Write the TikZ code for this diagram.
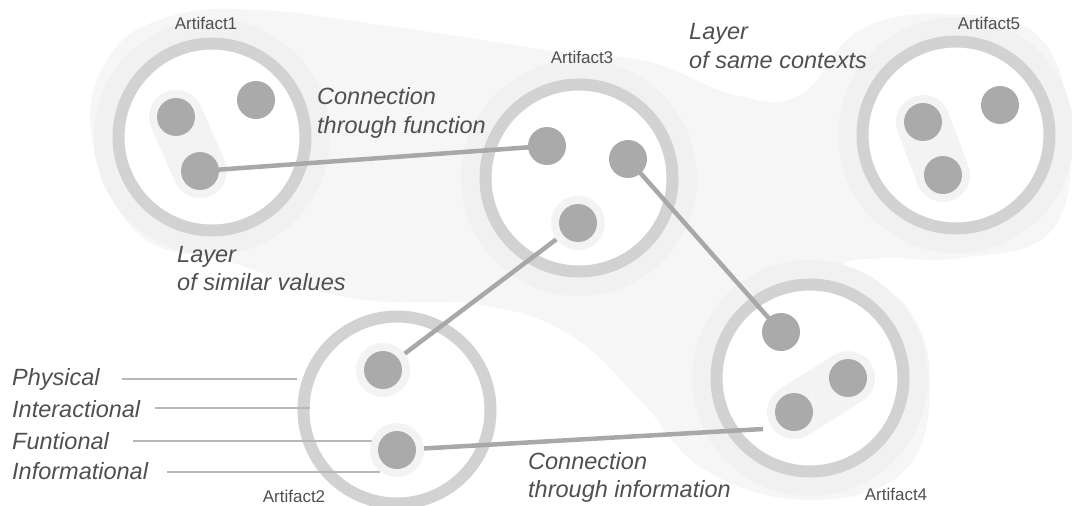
\documentclass[tikz,border=0pt]{standalone}
\usepackage{fontspec}
\setmainfont{Liberation Sans}
\definecolor{bandc}{HTML}{F6F6F6}
\definecolor{haloc}{HTML}{F1F1F1}
\definecolor{ringc}{HTML}{D2D2D2}
\definecolor{dotc}{HTML}{AAAAAA}
\definecolor{linec}{HTML}{A8A8A8}
\definecolor{pillc}{HTML}{F3F3F3}
\definecolor{txtc}{HTML}{505050}
\definecolor{leadc}{HTML}{B8B8B8}
\pgfdeclarelayer{back}
\pgfdeclarelayer{lines}
\pgfsetlayers{back,lines,main}
\tikzset{
  ring/.style={circle, draw=ringc, line width=12pt, fill=white, minimum size=187pt, inner sep=0pt},
  halo/.style={circle, fill=haloc, minimum size=236pt, inner sep=0pt},
  dot/.style={circle, fill=dotc, minimum size=38pt, inner sep=0pt},
  dothalo/.style={circle, fill=pillc, minimum size=54pt, inner sep=0pt},
  conn/.style={draw=linec, line width=4.5pt},
  pill/.style={draw=pillc, line width=54pt, line cap=round},
  lbl/.style={font=\fontsize{23.5}{28}\selectfont\itshape, text=txtc, inner sep=0pt, anchor=base west},
  art/.style={font=\fontsize{17}{20}\selectfont, text=txtc, inner sep=0pt, anchor=base},
  lead/.style={draw=leadc, line width=1.3pt}
}
\begin{document}
\begin{tikzpicture}[x=1pt,y=-1pt]
\useasboundingbox (0,0) rectangle (1072,506);
\clip (0,0) rectangle (1072,506);
\begin{pgfonlayer}{back}
  % layer band
  \fill[bandc] plot[smooth cycle, tension=0.7] coordinates {
    (92,140) (110,55) (175,15) (260,10) (360,22) (470,38) (560,52) (650,62)
    (735,95) (800,95) (860,30) (950,14) (1040,38) (1070,137) (1050,232)
    (960,258) (880,258) (845,268) (905,305) (930,380) (905,470) (810,500)
    (705,470) (640,400) (570,335) (480,305) (350,298) (230,262) (140,235)};
  % halos around artifacts
  \node[halo] (H1) at (212,137) {};
  \node[halo] (H3) at (579,178) {};
  \node[halo] (H5) at (956,135) {};
  \node[halo] (H4) at (810,378) {};
  % artifacts
  \node[ring] (A1) at (212,137) {};
  \node[ring] (A2) at (397,410) {};
  \node[ring] (A3) at (579,178) {};
  \node[ring] (A4) at (810,378) {};
  \node[ring] (A5) at (956,135) {};
  % group highlights
  \draw[pill] (176,117) -- (200,171);
  \draw[pill] (923,122) -- (943,175);
  \draw[pill] (794,412) -- (848,378);
\end{pgfonlayer}
% dots
\node[dot] (a1a) at (176,117) {};
\node[dot] (a1b) at (256,100) {};
\node[dot] (a1c) at (200,171) {};
\node[dot] (a3a) at (547,146) {};
\node[dot] (a3b) at (628,159) {};
\node[dothalo] (a3ch) at (578,223) {};
\node[dot] (a3c) at (578,223) {};
\node[dot] (a5a) at (923,122) {};
\node[dot] (a5b) at (1000,105) {};
\node[dot] (a5c) at (943,175) {};
\node[dothalo] (a2ah) at (383,370) {};
\node[dot] (a2a) at (383,370) {};
\node[dothalo] (a2bh) at (397,450) {};
\node[dot] (a2b) at (397,450) {};
\node[dot] (a4a) at (781,332) {};
\node[dot] (a4b) at (848,378) {};
\node[dot] (a4c) at (794,412) {};
\coordinate (a4in) at (763,429);
% connectors
\begin{pgfonlayer}{lines}
  \draw[conn] (a1c.center) -- (a3a.center);
  \draw[conn] (a3b.center) -- (a4a.center);
  \draw[conn] (a3ch) -- (a2ah);
  \draw[conn] (a2bh) -- (a4in);
\end{pgfonlayer}
% artifact labels
\node[art] (t1) at (206,30) {Artifact1};
\node[art] (t3) at (582,63) {Artifact3};
\node[art] (t5) at (989,30) {Artifact5};
\node[art] (t2) at (294,502) {Artifact2};
\node[art] (t4) at (896,500) {Artifact4};
% italic labels
\node[lbl] (cf1) at (317,104) {Connection};
\node[lbl] (cf2) at (317,133) {through function};
\node[lbl] (lc1) at (689,39) {Layer};
\node[lbl] (lc2) at (689,68) {of same contexts};
\node[lbl] (ls1) at (177,262) {Layer};
\node[lbl] (ls2) at (177,290) {of similar values};
\node[lbl] (ci1) at (528,469) {Connection};
\node[lbl] (ci2) at (528,497) {through information};
\node[lbl] (phys) at (12,385) {Physical};
\node[lbl] (inter) at (12,417) {Interactional};
\node[lbl] (func) at (12,449) {Funtional};
\node[lbl] (info) at (12,479) {Informational};
\coordinate (physE) at (297,379);
\coordinate (interE) at (310,408);
\coordinate (funcE) at (380,441);
\coordinate (infoE) at (380,472);
\coordinate (physS) at (122,379);
\coordinate (interS) at (155,408);
\coordinate (funcS) at (133,441);
\coordinate (infoS) at (167,472);
\begin{pgfonlayer}{lines}
  \draw[lead] (physS) -- (physE);
  \draw[lead] (interS) -- (interE);
  \draw[lead] (funcS) -- (funcE);
  \draw[lead] (infoS) -- (infoE);
\end{pgfonlayer}
\end{tikzpicture}
\end{document}
